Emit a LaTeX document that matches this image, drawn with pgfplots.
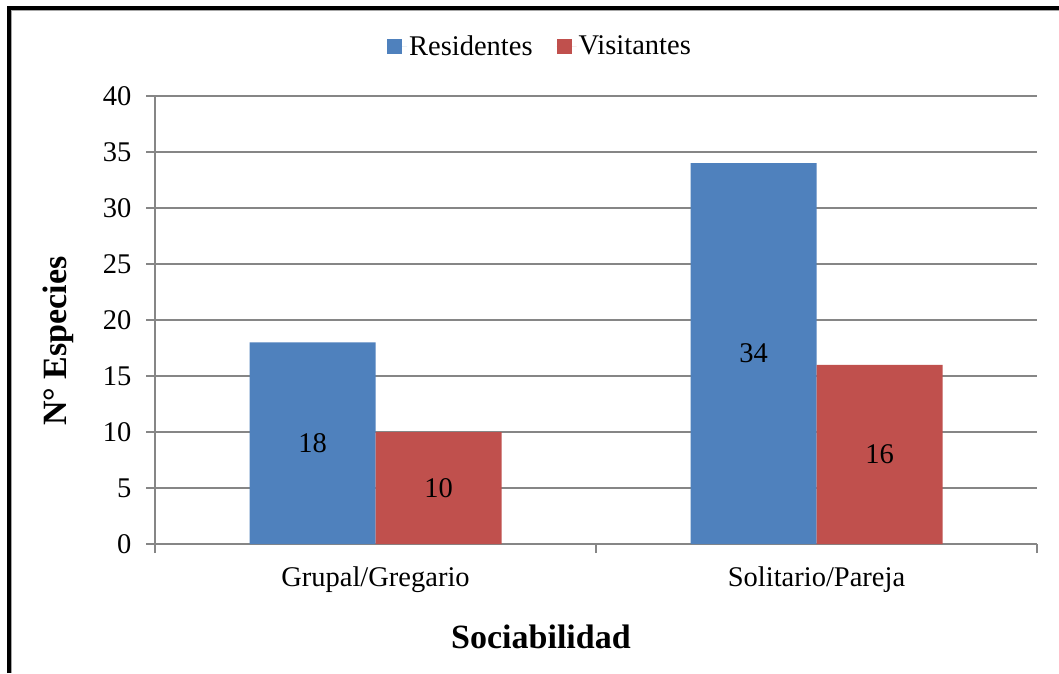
\documentclass[border=0pt]{standalone}
\usepackage{fontspec}
\setmainfont{Liberation Serif}
\usepackage{pgfplots}
\pgfplotsset{compat=1.18}
\definecolor{resblue}{HTML}{4F81BD}
\definecolor{visred}{HTML}{C0504D}
\definecolor{gridgray}{HTML}{868686}
\begin{document}
\begin{tikzpicture}[x=1pt,y=1pt]
\useasboundingbox (0,0) rectangle (1059,673);
\fill[white] (0,0) rectangle (1059,673);
\draw[gray!70, line width=1.5pt] (11.5,0) -- (11.5,662.5) -- (1059,662.5);
\draw[black, line width=3.4pt] (9,0) -- (9,665) -- (1059,665);
\begin{axis}[
  at={(155pt,129pt)}, anchor=south west,
  scale only axis, width=882pt, height=448pt,
  xmin=0, xmax=2, ymin=0, ymax=40,
  ytick={0,5,...,40},
  xtick={0.5,1.5},
  xticklabels={Grupal/Gregario, Solitario/Pareja},
  minor xtick={0,1,2},
  major x tick style={draw=none},
  minor x tick style={draw=gridgray, line width=1.2pt},
  y tick style={draw=gridgray, line width=1.2pt},
  tick align=outside,
  major tick length=9pt, minor tick length=9pt,
  axis x line*=bottom, axis y line*=left,
  axis line style={draw=gridgray, line width=1.2pt, -},
  ymajorgrids,
  grid style={draw=gridgray, line width=1.2pt},
  /pgf/number format/assume math mode=true,
  tick label style={font=\fontsize{28.5}{32}\selectfont, text=black},
  yticklabel style={xshift=-11pt},
  xticklabel style={yshift=-10pt},
  xlabel={\textbf{Sociabilidad}},
  ylabel={\textbf{N° Especies}},
  label style={font=\fontsize{34}{38}\selectfont},
  xlabel style={at={(axis description cs:0.4376,-0.2076)}, anchor=center},
  ylabel style={at={(axis description cs:-0.110,0.453)}, anchor=center, rotate=0},
  ybar=0pt, bar width=126pt,
  legend columns=2,
  legend style={at={(axis description cs:0.4365,1.1116)}, anchor=center, draw=none, fill=none,
    font=\fontsize{28.5}{32}\selectfont,
    /tikz/every even column/.append style={column sep=22pt}},
  legend image code/.code={\fill[#1] (0pt,-7.5pt) rectangle (15pt,7.5pt); \path (0pt,0pt) -- (20pt,0pt);},
  visualization depends on=y \as \rawy,
  nodes near coords,
  every node near coord/.append style={anchor=center, yshift={-0.5*\rawy*11.2pt}, font=\fontsize{28.5}{32}\selectfont, text=black},
  clip=false,
]
\addplot[fill=resblue, draw=none] coordinates {(0.5,18) (1.5,34)};
\addplot[fill=visred, draw=none] coordinates {(0.5,10) (1.5,16)};
\legend{Residentes, Visitantes}
\end{axis}
\end{tikzpicture}
\end{document}
